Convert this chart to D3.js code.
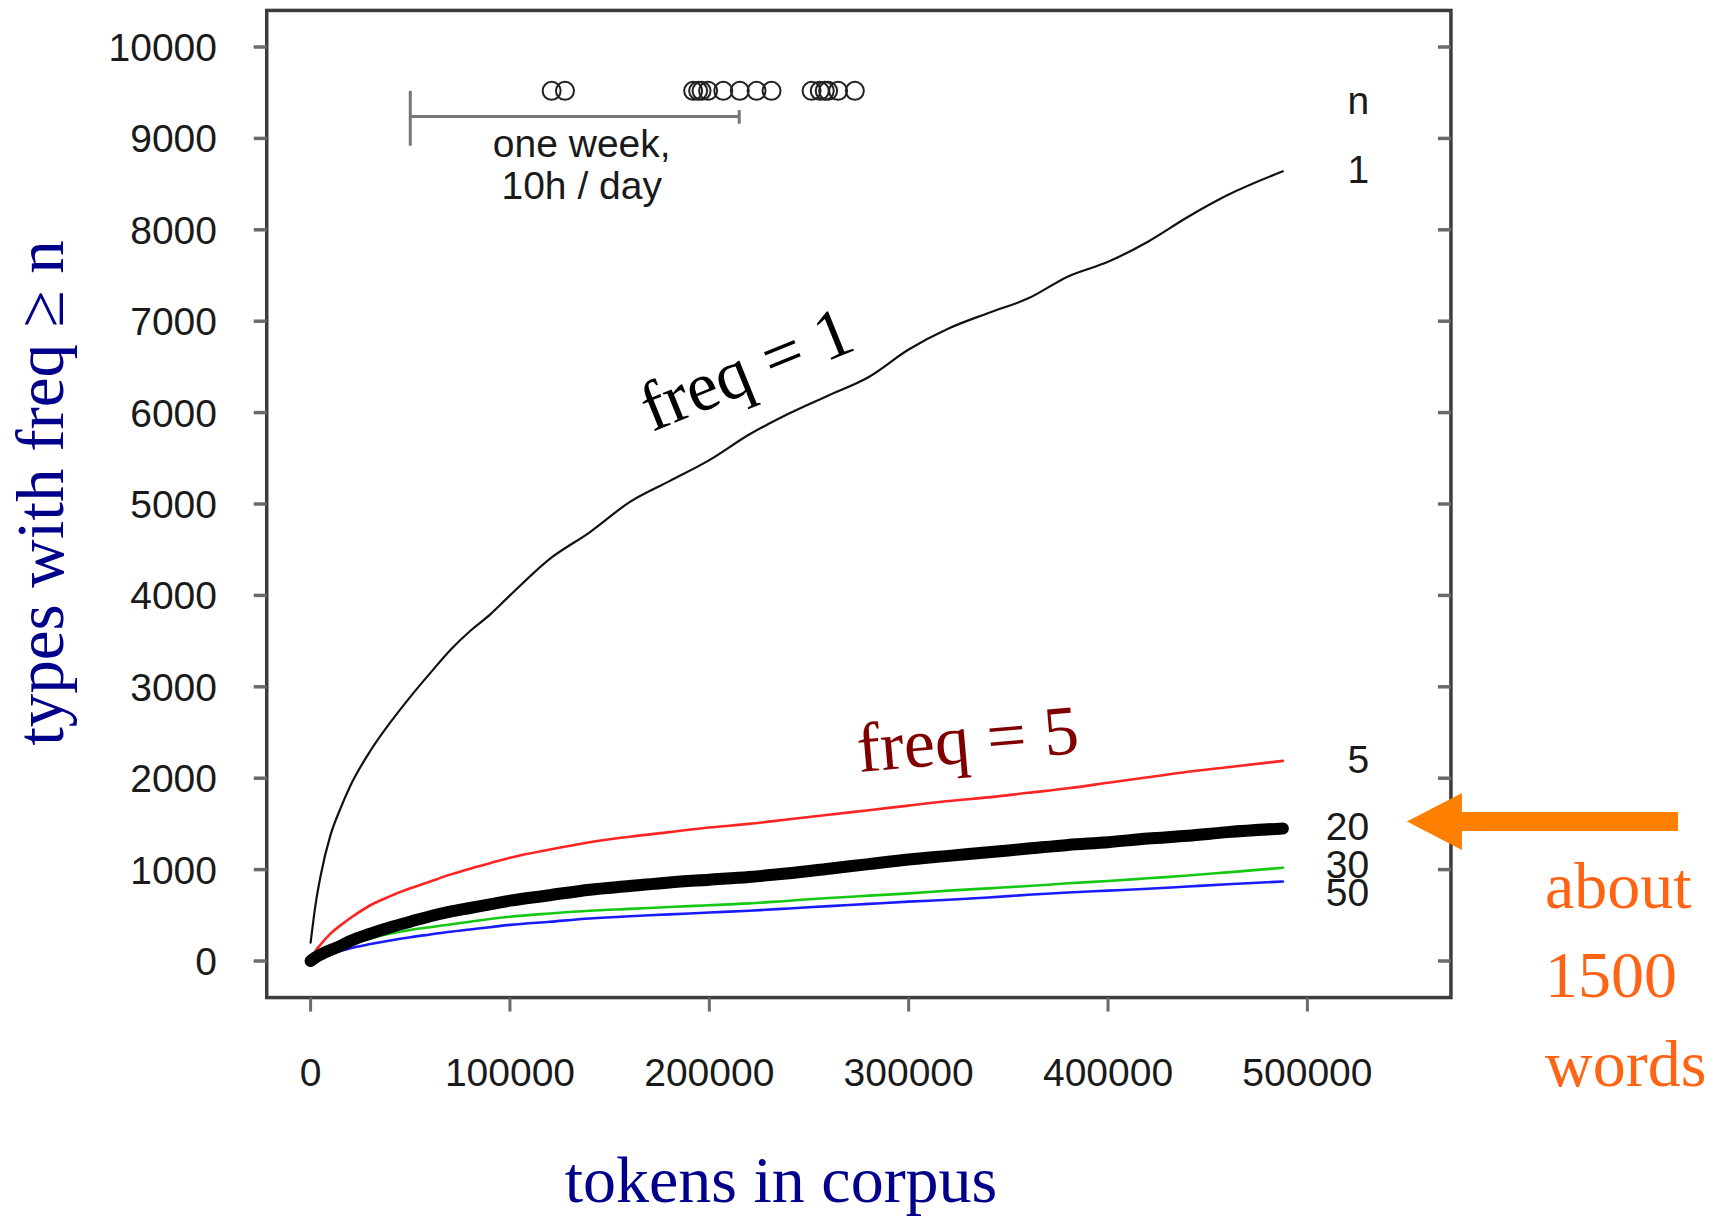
<!DOCTYPE html>
<html>
<head>
<meta charset="utf-8">
<script src="https://cdn.jsdelivr.net/npm/d3@7"></script>
<style>
  html, body { margin: 0; padding: 0; background: #fff; }
  svg { display: block; }
</style>
</head>
<body>
<div id="chart"></div>
<script>
// tokens read along the x axis (shared by all curves)
const tokens = [0, 2500, 5000, 10000, 15000, 20000, 30000, 40000, 50000, 60000, 70000, 80000, 90000,
  100000, 120000, 140000, 160000, 180000, 200000, 220000, 240000, 260000, 280000, 300000,
  320000, 340000, 360000, 380000, 400000, 420000, 440000, 460000, 487700];

// number of types with freq >= n
const freq1 = [200, 620, 930, 1380, 1670, 1920, 2300, 2610, 2890, 3150, 3400, 3610, 3790,
  4000, 4400, 4690, 5020, 5250, 5480, 5760, 5990, 6190, 6390, 6690,
  6920, 7090, 7250, 7490, 7650, 7870, 8140, 8380, 8640];
const freq5 = [0, 110, 180, 300, 390, 470, 610, 710, 795, 870, 945, 1010, 1070,
  1130, 1220, 1300, 1360, 1410, 1460, 1500, 1550, 1600, 1650, 1700,
  1750, 1790, 1840, 1890, 1950, 2010, 2070, 2120, 2190];
const freq20 = [0, 40, 70, 120, 165, 220, 300, 370, 430, 490, 540, 580, 620,
  660, 720, 780, 820, 860, 890, 920, 960, 1010, 1060, 1110,
  1150, 1190, 1230, 1270, 1300, 1340, 1370, 1410, 1450];
const freq30 = [0, 35, 60, 105, 145, 180, 245, 300, 340, 370, 400, 430, 460,
  485, 520, 550, 570, 590, 610, 630, 660, 690, 715, 740,
  770, 795, 820, 850, 875, 905, 935, 970, 1020];
const freq50 = [0, 25, 45, 80, 110, 140, 185, 225, 260, 290, 320, 345, 370,
  395, 430, 465, 490, 510, 530, 550, 575, 600, 625, 650,
  670, 695, 725, 750, 770, 790, 815, 840, 870];

// circles at the top (token positions)
const weekPoints = [120900, 127600, 191900, 194400, 196100, 199400, 207000, 215300, 223700, 231200,
  251300, 255400, 257900, 259600, 264600, 273000];

const xTicks = [0, 100000, 200000, 300000, 400000, 500000];
const yTicks = [0, 1000, 2000, 3000, 4000, 5000, 6000, 7000, 8000, 9000, 10000];

// right-hand labels: text and the level where they sit
const endLabels = ["n", "1", "5", "20", "30", "50"];
const endLabelLevels = [9420, 8670, 2210, 1480, 1060, 750];

const W = 1727, H = 1220;
const xlim = [0, 550000], ylim = [0, 10000];

const x = d3.scaleLinear().domain([0, 500000]).range([310.6, 1307.4]);
const y = d3.scaleLinear().domain([0, 10000]).range([961, 47]);

// R style box: limits padded by 4%
const padX = (xlim[1] - xlim[0]) * 0.04, padY = (ylim[1] - ylim[0]) * 0.04;
const boxL = x(xlim[0] - padX), boxR = x(xlim[1] + padX);
const boxT = y(ylim[1] + padY), boxB = y(ylim[0] - padY);

const svg = d3.select("#chart").append("svg")
  .attr("width", W).attr("height", H);

const sans = "'Liberation Sans', Arial, Helvetica, sans-serif";
const serif = "'Liberation Serif', 'Times New Roman', serif";

// curves
const series = [
  { vals: freq1, color: "#111", width: 2.2, curve: d3.curveMonotoneX },
  { vals: freq5, color: "#ff2424", width: 2.6, curve: d3.curveMonotoneX },
  { vals: freq30, color: "#14c814", width: 2.6, curve: d3.curveMonotoneX },
  { vals: freq50, color: "#1a1aff", width: 2.6, curve: d3.curveMonotoneX },
  { vals: freq20, color: "#000", width: 12, curve: d3.curveMonotoneX }
];

series.forEach(s => {
  const line = d3.line()
    .x((d, i) => x(tokens[i]))
    .y(d => y(d))
    .curve(s.curve);
  svg.append("path")
    .datum(s.vals)
    .attr("d", line)
    .attr("fill", "none")
    .attr("stroke", s.color)
    .attr("stroke-width", s.width)
    .attr("stroke-linecap", "round")
    .attr("stroke-linejoin", "round");
});

// one week bar
const weekStart = 50000, weekEnd = 215000, weekLevel = 9240;
svg.append("line")
  .attr("x1", x(weekStart)).attr("x2", x(weekEnd))
  .attr("y1", y(weekLevel)).attr("y2", y(weekLevel))
  .attr("stroke", "#777").attr("stroke-width", 3);
svg.append("line")
  .attr("x1", x(weekStart)).attr("x2", x(weekStart))
  .attr("y1", y(9520)).attr("y2", y(8920))
  .attr("stroke", "#777").attr("stroke-width", 3);
svg.append("line")
  .attr("x1", x(weekEnd)).attr("x2", x(weekEnd))
  .attr("y1", y(9310)).attr("y2", y(9160))
  .attr("stroke", "#777").attr("stroke-width", 3);

svg.selectAll("circle.week")
  .data(weekPoints)
  .join("circle")
  .attr("class", "week")
  .attr("cx", d => x(d))
  .attr("cy", y(9520))
  .attr("r", 9)
  .attr("fill", "none")
  .attr("stroke", "#222")
  .attr("stroke-width", 2);

svg.append("text")
  .attr("x", x(136000)).attr("y", y(weekLevel) + 41)
  .attr("text-anchor", "middle")
  .style("font-family", sans).style("font-size", "39px").style("fill", "#1a1a1a")
  .text("one week,");
svg.append("text")
  .attr("x", x(136000)).attr("y", y(weekLevel) + 83)
  .attr("text-anchor", "middle")
  .style("font-family", sans).style("font-size", "39px").style("fill", "#1a1a1a")
  .text("10h / day");

// right labels
svg.selectAll("text.endlab")
  .data(endLabels)
  .join("text")
  .attr("class", "endlab")
  .attr("x", x(531000))
  .attr("y", (d, i) => y(endLabelLevels[i]))
  .attr("dy", "0.36em")
  .attr("text-anchor", "end")
  .style("font-family", sans).style("font-size", "39px").style("fill", "#1a1a1a")
  .text(d => d);

// box
svg.append("rect")
  .attr("x", boxL).attr("y", boxT)
  .attr("width", boxR - boxL).attr("height", boxB - boxT)
  .attr("fill", "none")
  .attr("stroke", "#3c3c3c")
  .attr("stroke-width", 3.5);

// y ticks (left outside, right inside)
const tickLen = 13;
svg.selectAll("line.ytl")
  .data(yTicks)
  .join("line")
  .attr("class", "ytl")
  .attr("x1", boxL - tickLen).attr("x2", boxL)
  .attr("y1", d => y(d)).attr("y2", d => y(d))
  .attr("stroke", "#6a6a6a").attr("stroke-width", 3.5);
svg.selectAll("line.ytr")
  .data(yTicks)
  .join("line")
  .attr("class", "ytr")
  .attr("x1", boxR - tickLen).attr("x2", boxR)
  .attr("y1", d => y(d)).attr("y2", d => y(d))
  .attr("stroke", "#6a6a6a").attr("stroke-width", 3.5);

svg.selectAll("text.ylab")
  .data(yTicks)
  .join("text")
  .attr("class", "ylab")
  .attr("x", 217)
  .attr("y", d => y(d))
  .attr("dy", "0.36em")
  .attr("text-anchor", "end")
  .style("font-family", sans).style("font-size", "39px").style("fill", "#1a1a1a")
  .text(d => d);

// x ticks
svg.selectAll("line.xt")
  .data(xTicks)
  .join("line")
  .attr("class", "xt")
  .attr("x1", d => x(d)).attr("x2", d => x(d))
  .attr("y1", boxB).attr("y2", boxB + 14)
  .attr("stroke", "#6a6a6a").attr("stroke-width", 3);

svg.selectAll("text.xlab")
  .data(xTicks)
  .join("text")
  .attr("class", "xlab")
  .attr("x", d => x(d))
  .attr("y", 1086)
  .attr("text-anchor", "middle")
  .style("font-family", sans).style("font-size", "39px").style("fill", "#1a1a1a")
  .text(d => d);

// axis titles
svg.append("text")
  .attr("transform", "translate(63,493) rotate(-90)")
  .attr("text-anchor", "middle")
  .style("font-family", serif).style("font-size", "67px").style("fill", "#00008b")
  .text("types with freq \u2265 n");

svg.append("text")
  .attr("x", 781).attr("y", 1202)
  .attr("text-anchor", "middle")
  .style("font-family", serif).style("font-size", "66px").style("fill", "#00008b")
  .text("tokens in corpus");

// curve annotations
svg.append("text")
  .attr("transform", "translate(652,432) rotate(-22)")
  .style("font-family", serif).style("font-size", "70px").style("fill", "#000")
  .text("freq = 1");

svg.append("text")
  .attr("transform", "translate(859,772) rotate(-5)")
  .style("font-family", serif).style("font-size", "70px").style("fill", "#800000")
  .text("freq = 5");

// orange arrow pointing at the freq >= 20 curve
const ay = y(1525);
const tipX = boxR - 44, headX = tipX + 55, tailX = 1678;
svg.append("path")
  .attr("d", `M${tipX},${ay} L${headX},${ay - 28.5} L${headX},${ay - 9.5} L${tailX},${ay - 9.5}
              L${tailX},${ay + 9.5} L${headX},${ay + 9.5} L${headX},${ay + 28.5} Z`)
  .attr("fill", "#ff7f00");

const noteLines = ["about", "1500", "words"];
svg.selectAll("text.note")
  .data(noteLines)
  .join("text")
  .attr("class", "note")
  .attr("x", 1545)
  .attr("y", (d, i) => 908 + i * 89)
  .style("font-family", serif).style("font-size", "66px").style("fill", "#ff6414")
  .text(d => d);
</script>
</body>
</html>
